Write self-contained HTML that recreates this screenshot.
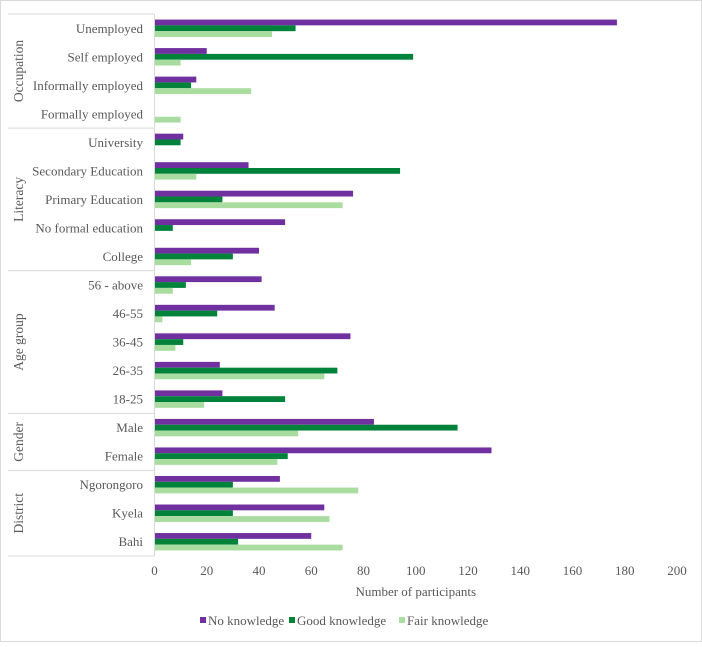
<!DOCTYPE html>
<html><head><meta charset="utf-8"><style>
body{margin:0;background:#fff;}
svg text{font-family:"Liberation Serif",serif;fill:#595959;}
</style></head><body>
<svg id="chart" width="702" height="642" xmlns="http://www.w3.org/2000/svg">
<rect x="0.5" y="0.5" width="701" height="641" fill="#fff" stroke="#d9d9d9"/>
<g id="plot"></g>
</svg>
<script>
const categories=["Unemployed","Self employed","Informally employed","Formally employed","University","Secondary Education","Primary Education","No formal education","College","56 - above","46-55","36-45","26-35","18-25","Male","Female","Ngorongoro","Kyela","Bahi"];
const noKnowledge=[177,20,16,0,11,36,76,50,40,41,46,75,25,26,84,129,48,65,60];
const goodKnowledge=[54,99,14,0,10,94,26,7,30,12,24,11,70,50,116,51,30,30,32];
const fairKnowledge=[45,10,37,10,0,16,72,0,14,7,3,8,65,19,55,47,78,67,72];
const groups=[["Occupation",0,4],["Literacy",4,9],["Age group",9,14],["Gender",14,16],["District",16,19]];
const xTicks=[0,20,40,60,80,100,120,140,160,180,200];
const seriesNames=["No knowledge","Good knowledge","Fair knowledge"];
const colors=["#7030A0","#00823B","#A9DC9F"];

const NS="http://www.w3.org/2000/svg";
const g=document.getElementById('plot');
const X0=154.5,X1=677,Y0=14,Y1=556;
const x=v=>X0+(X1-X0)*v/200;
const band=(Y1-Y0)/categories.length;
const y=i=>Y0+band*(i+0.5);
function el(tag,attrs,text){const e=document.createElementNS(NS,tag);for(const k in attrs)e.setAttribute(k,attrs[k]);if(text!==undefined)e.textContent=text;g.appendChild(e);return e;}

const series=[noKnowledge,goodKnowledge,fairKnowledge];
const bh=5.8;
series.forEach((s,si)=>{
  s.forEach((v,i)=>{
    const r=el('rect',{x:X0,y:y(i)-bh*1.5+si*bh,width:Math.max(0,x(v)-X0),height:bh,fill:colors[si]});
    
    
  });
});
categories.forEach((c,i)=>{
  const t=el('text',{x:143,y:y(i)+4.5,'text-anchor':'end','font-size':'13'},c);
  
  
});
const ax=el('line',{x1:X0,y1:Y0,x2:X0,y2:Y1,stroke:'#d9d9d9','stroke-width':1});


groups.forEach((gr,gi)=>{
  const ya=Y0+band*gr[1],yb=Y0+band*gr[2];
  const l=el('line',{x1:8,y1:ya,x2:X0,y2:ya,stroke:'#d9d9d9','stroke-width':1});
  
  
  if(gi===groups.length-1){const l2=el('line',{x1:8,y1:yb,x2:X0,y2:yb,stroke:'#d9d9d9','stroke-width':1});
    
    }
  const cy=(ya+yb)/2;
  const t=el('text',{x:19,y:cy,'text-anchor':'middle','font-size':'13.5',transform:`rotate(-90 19 ${cy})`,dy:'4'},gr[0]);
  
  
});
xTicks.forEach(v=>{
  const t=el('text',{x:x(v),y:575,'text-anchor':'middle','font-size':'13'},v);
  
  
});
const xt=el('text',{x:(X0+X1)/2,y:596,'text-anchor':'middle','font-size':'13'},'Number of participants');


const lx=[200,289,399];
seriesNames.forEach((n,i)=>{
  const r=el('rect',{x:lx[i],y:617,width:6,height:6,fill:colors[i]});
  
  
  const t=el('text',{x:lx[i]+8,y:625,'font-size':'13'},n);
  
  
});
</script>
</body></html>
